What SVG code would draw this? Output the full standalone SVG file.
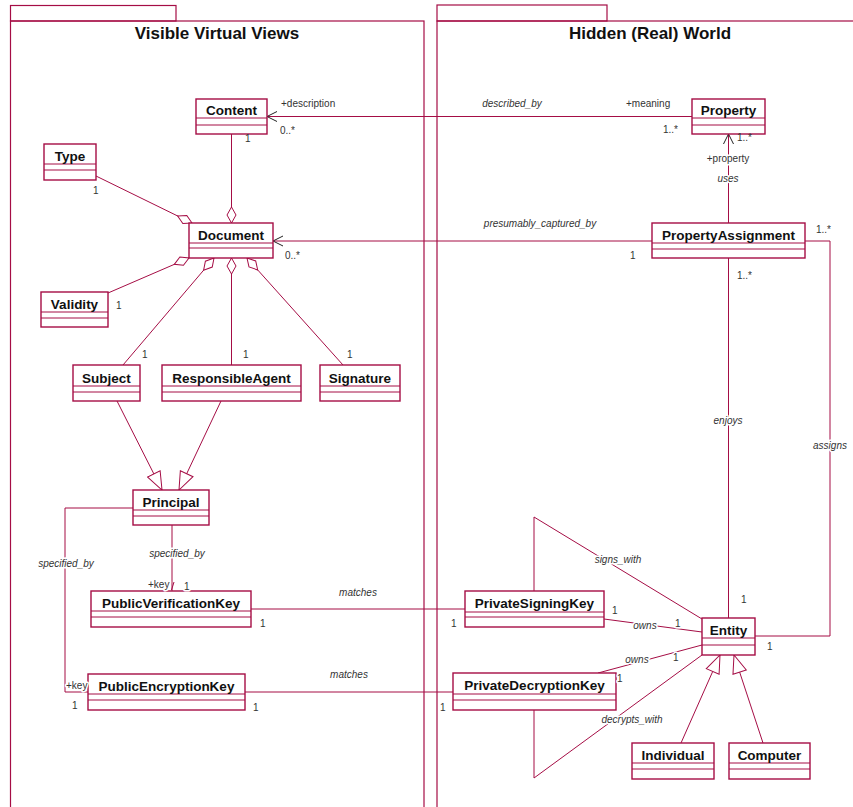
<svg xmlns="http://www.w3.org/2000/svg" width="853" height="807" viewBox="0 0 853 807">
<style>
.pk{fill:none;stroke:#a50d45;stroke-width:1.2}
.box{fill:#fff;stroke:#a50d45;stroke-width:1.4}
.dv{stroke:#a50d45;stroke-width:1}
.cn{font-family:"Liberation Sans",Arial,sans-serif;font-weight:bold;font-size:13.5px;fill:#111;text-anchor:middle}
.tt{font-family:"Liberation Sans",Arial,sans-serif;font-weight:bold;font-size:17px;fill:#111;text-anchor:middle}
.ln{fill:none;stroke:#a50d45;stroke-width:1}
.lb{font-family:"Liberation Sans",Arial,sans-serif;font-size:10px;fill:#333;stroke:#fff;stroke-width:3;paint-order:stroke;stroke-linejoin:round}
.nh{font-family:"Liberation Sans",Arial,sans-serif;font-size:10px;fill:#333}
.it{font-style:italic;text-anchor:middle}
.mid{text-anchor:middle}
</style>
<defs>
<marker id="dia" markerUnits="userSpaceOnUse" viewBox="-1 -6 19 12" markerWidth="19" markerHeight="12" refX="16" refY="0" orient="auto">
<path d="M0,0 L8,-4.5 L16,0 L8,4.5 Z" fill="#fff" stroke="#a50d45" stroke-width="1"/>
</marker>
<marker id="tri" markerUnits="userSpaceOnUse" viewBox="-1 -8 20 16" markerWidth="20" markerHeight="16" refX="18" refY="0" orient="auto">
<path d="M0,-7 L18,0 L0,7 Z" fill="#fff" stroke="#a50d45" stroke-width="1"/>
</marker>
<marker id="arr" markerUnits="userSpaceOnUse" viewBox="-1 -6 12 12" markerWidth="12" markerHeight="12" refX="10" refY="0" orient="auto">
<path d="M0,-5 L10,0 L0,5" fill="none" stroke="#222" stroke-width="1"/>
</marker>
</defs>
<rect width="853" height="807" fill="#fff"/>

<g id="pkg-visible">
<rect class="pk" x="10.5" y="5.5" width="165.5" height="15.5"/>
<rect class="pk" x="10.5" y="21" width="413.5" height="800"/>
<text class="tt" x="217" y="39">Visible Virtual Views</text>
</g>
<g id="pkg-hidden">
<rect class="pk" x="437" y="5" width="170" height="16"/>
<rect class="pk" x="437" y="21" width="430" height="800"/>
<text class="tt" x="650" y="39">Hidden (Real) World</text>
</g>

<g id="connectors">
<line class="ln" x1="692" y1="116.5" x2="267" y2="116.5" marker-end="url(#arr)"/>
<line class="ln" x1="231.5" y1="134" x2="231.5" y2="223" marker-end="url(#dia)"/>
<line class="ln" x1="96" y1="176" x2="192" y2="223" marker-end="url(#dia)"/>
<line class="ln" x1="108" y1="293" x2="189" y2="258" marker-end="url(#dia)"/>
<line class="ln" x1="123" y1="365" x2="214" y2="258" marker-end="url(#dia)"/>
<line class="ln" x1="231.5" y1="365" x2="231.5" y2="258" marker-end="url(#dia)"/>
<line class="ln" x1="343" y1="365" x2="247" y2="258" marker-end="url(#dia)"/>
<line class="ln" x1="117" y1="401" x2="162" y2="490" marker-end="url(#tri)"/>
<line class="ln" x1="221" y1="401" x2="179" y2="490" marker-end="url(#tri)"/>
<line class="ln" x1="172" y1="525" x2="172" y2="591"/>
<line class="ln" x1="171.5" y1="590" x2="174" y2="582"/>
<polyline class="ln" points="133,508 65,508 65,692 88,692"/>
<line class="ln" x1="251" y1="609" x2="465" y2="609"/>
<line class="ln" x1="245" y1="692" x2="453" y2="692"/>
<line class="ln" x1="728.5" y1="223" x2="728.5" y2="134" marker-end="url(#arr)"/>
<line class="ln" x1="652" y1="241" x2="273" y2="241" marker-end="url(#arr)"/>
<line class="ln" x1="728.5" y1="258" x2="728.5" y2="618"/>
<polyline class="ln" points="805,241 830,241 830,636 755,636"/>
<line class="ln" x1="604" y1="619" x2="702" y2="632"/>
<line class="ln" x1="598" y1="673" x2="702" y2="645"/>
<polyline class="ln" points="534,591 534,517 702,619"/>
<polyline class="ln" points="534,710 534,778 702,655"/>
<line class="ln" x1="681" y1="743" x2="720" y2="655" marker-end="url(#tri)"/>
<line class="ln" x1="763" y1="743" x2="734" y2="655" marker-end="url(#tri)"/>
</g>

<g id="content"><rect class="box" x="196" y="99" width="71" height="35"/><line class="dv" x1="196" y1="118" x2="267" y2="118"/><line class="dv" x1="196" y1="125" x2="267" y2="125"/><text class="cn" x="231.5" y="115">Content</text></g>
<g id="property"><rect class="box" x="692" y="99" width="73" height="35"/><line class="dv" x1="692" y1="118" x2="765" y2="118"/><line class="dv" x1="692" y1="125" x2="765" y2="125"/><text class="cn" x="728.5" y="115">Property</text></g>
<g id="type"><rect class="box" x="44" y="144" width="52" height="36"/><line class="dv" x1="44" y1="164" x2="96" y2="164"/><line class="dv" x1="44" y1="170" x2="96" y2="170"/><text class="cn" x="70" y="161">Type</text></g>
<g id="document"><rect class="box" x="189" y="223" width="84" height="35"/><line class="dv" x1="189" y1="243" x2="273" y2="243"/><line class="dv" x1="189" y1="248" x2="273" y2="248"/><text class="cn" x="231" y="240">Document</text></g>
<g id="validity"><rect class="box" x="41" y="292" width="67" height="35"/><line class="dv" x1="41" y1="312" x2="108" y2="312"/><line class="dv" x1="41" y1="318" x2="108" y2="318"/><text class="cn" x="74.5" y="309">Validity</text></g>
<g id="subject"><rect class="box" x="73" y="365" width="67" height="36"/><line class="dv" x1="73" y1="386" x2="140" y2="386"/><line class="dv" x1="73" y1="392" x2="140" y2="392"/><text class="cn" x="106.5" y="383">Subject</text></g>
<g id="responsibleagent"><rect class="box" x="162" y="365" width="139" height="36"/><line class="dv" x1="162" y1="386" x2="301" y2="386"/><line class="dv" x1="162" y1="392" x2="301" y2="392"/><text class="cn" x="231.5" y="383">ResponsibleAgent</text></g>
<g id="signature"><rect class="box" x="320" y="365" width="80" height="36"/><line class="dv" x1="320" y1="386" x2="400" y2="386"/><line class="dv" x1="320" y1="392" x2="400" y2="392"/><text class="cn" x="360" y="383">Signature</text></g>
<g id="principal"><rect class="box" x="133" y="490" width="76" height="35"/><line class="dv" x1="133" y1="510" x2="209" y2="510"/><line class="dv" x1="133" y1="516" x2="209" y2="516"/><text class="cn" x="171" y="507">Principal</text></g>
<g id="publicverificationkey"><rect class="box" x="91" y="591" width="160" height="36"/><line class="dv" x1="91" y1="611" x2="251" y2="611"/><line class="dv" x1="91" y1="617" x2="251" y2="617"/><text class="cn" x="171" y="608">PublicVerificationKey</text></g>
<g id="publicencryptionkey"><rect class="box" x="88" y="674" width="157" height="36"/><line class="dv" x1="88" y1="694" x2="245" y2="694"/><line class="dv" x1="88" y1="700" x2="245" y2="700"/><text class="cn" x="166.5" y="691">PublicEncryptionKey</text></g>
<g id="propertyassignment"><rect class="box" x="652" y="223" width="153" height="35"/><line class="dv" x1="652" y1="243" x2="805" y2="243"/><line class="dv" x1="652" y1="249" x2="805" y2="249"/><text class="cn" x="728.5" y="240">PropertyAssignment</text></g>
<g id="privatesigningkey"><rect class="box" x="465" y="591" width="139" height="36"/><line class="dv" x1="465" y1="612" x2="604" y2="612"/><line class="dv" x1="465" y1="617" x2="604" y2="617"/><text class="cn" x="534.5" y="608">PrivateSigningKey</text></g>
<g id="entity"><rect class="box" x="702" y="618" width="53" height="37"/><line class="dv" x1="702" y1="638" x2="755" y2="638"/><line class="dv" x1="702" y1="645" x2="755" y2="645"/><text class="cn" x="728.5" y="635">Entity</text></g>
<g id="privatedecryptionkey"><rect class="box" x="453" y="673" width="163" height="37"/><line class="dv" x1="453" y1="694" x2="616" y2="694"/><line class="dv" x1="453" y1="700" x2="616" y2="700"/><text class="cn" x="534.5" y="690">PrivateDecryptionKey</text></g>
<g id="individual"><rect class="box" x="632" y="743" width="82" height="36"/><line class="dv" x1="632" y1="763" x2="714" y2="763"/><line class="dv" x1="632" y1="769" x2="714" y2="769"/><text class="cn" x="673" y="760">Individual</text></g>
<g id="computer"><rect class="box" x="729" y="743" width="81" height="36"/><line class="dv" x1="729" y1="763" x2="810" y2="763"/><line class="dv" x1="729" y1="769" x2="810" y2="769"/><text class="cn" x="769.5" y="760">Computer</text></g>

<g id="labels">
<text class="lb" x="281" y="107">+description</text>
<text class="lb" x="280" y="134">0..*</text>
<text class="nh" x="245" y="142">1</text>
<text class="lb it" x="512" y="107">described_by</text>
<text class="lb" x="626" y="107">+meaning</text>
<text class="lb" x="663" y="133">1..*</text>
<text class="nh" x="737" y="141">1..*</text>
<text class="lb mid" x="728" y="162">+property</text>
<text class="lb it" x="728" y="182">uses</text>
<text class="lb it" x="540" y="227">presumably_captured_by</text>
<text class="lb" x="285" y="259">0..*</text>
<text class="lb" x="630" y="259">1</text>
<text class="lb" x="816" y="233">1..*</text>
<text class="lb" x="737" y="279">1..*</text>
<text class="lb" x="93" y="194">1</text>
<text class="lb" x="116" y="309">1</text>
<text class="lb" x="142" y="358">1</text>
<text class="lb" x="243" y="358">1</text>
<text class="lb" x="347" y="358">1</text>
<text class="lb it" x="177" y="557">specified_by</text>
<text class="lb" x="148" y="588">+key</text>
<text class="lb" x="184" y="590">1</text>
<text class="lb it" x="66" y="567">specified_by</text>
<text class="lb" x="66" y="689">+key</text>
<text class="lb" x="72" y="709">1</text>
<text class="lb it" x="358" y="596">matches</text>
<text class="lb" x="260" y="627">1</text>
<text class="lb it" x="349" y="678">matches</text>
<text class="lb" x="253" y="711">1</text>
<text class="lb" x="451" y="627">1</text>
<text class="lb" x="440" y="711">1</text>
<text class="lb it" x="618" y="563">signs_with</text>
<text class="lb" x="612" y="614">1</text>
<text class="lb it" x="645" y="629">owns</text>
<text class="lb" x="675" y="627">1</text>
<text class="lb it" x="637" y="663">owns</text>
<text class="lb" x="673" y="661">1</text>
<text class="lb" x="617" y="682">1</text>
<text class="lb it" x="632" y="723">decrypts_with</text>
<text class="lb" x="741" y="603">1</text>
<text class="lb" x="767" y="650">1</text>
<text class="lb it" x="728" y="424">enjoys</text>
<text class="lb it" x="830" y="449">assigns</text>
</g>
</svg>
